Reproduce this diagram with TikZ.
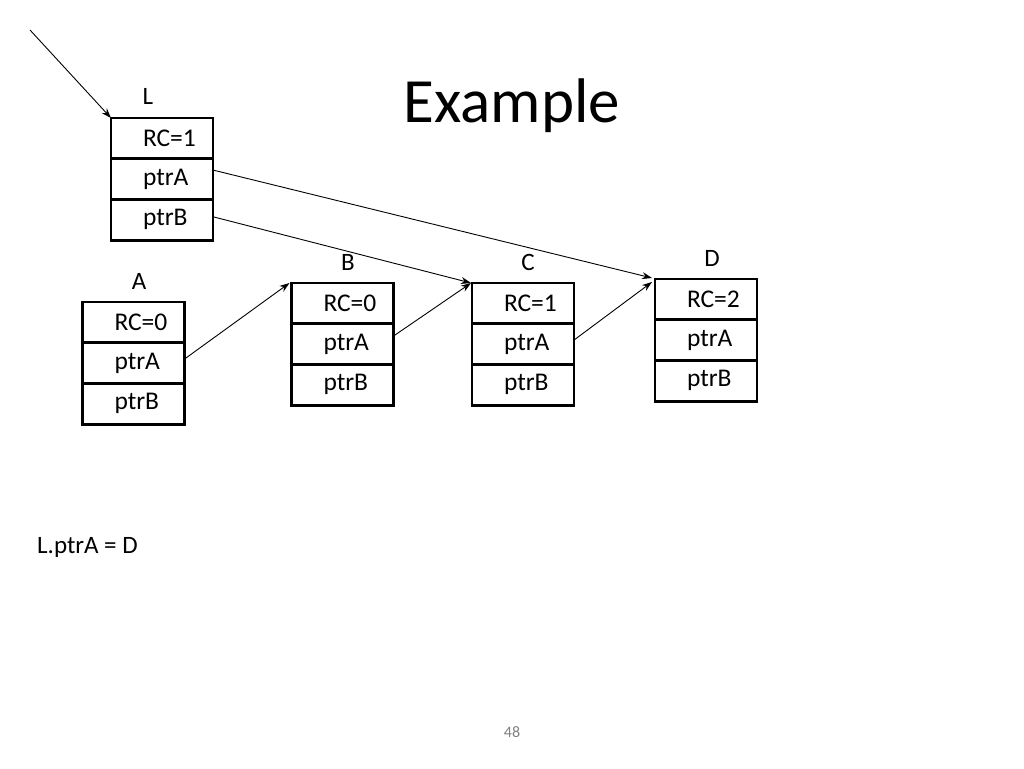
\documentclass[tikz,border=0pt]{standalone}
\usepackage{fontspec}
\setmainfont{Carlito}
\usetikzlibrary{arrows.meta}
\tikzset{
  cell/.style={draw, line width=2.8pt, outer sep=0pt, minimum width=102pt, minimum height=40.7pt,
    text width=70pt, inner xsep=16pt, align=left, font=\fontsize{25.5}{29}\selectfont,
    execute at begin node={\hspace*{16pt}}},
  lab/.style={font=\fontsize{25}{29}\selectfont, inner sep=0pt},
  ptr/.style={line width=0.9pt, -{Stealth[length=10pt,width=7pt]}},
}
\newcommand\objbox[4]{%
  \node[cell, anchor=north] (#1rc) at (#2,#3) {RC=#4};
  \node[cell, anchor=north] (#1a) at (#1rc.south) {ptrA};
  \node[cell, anchor=north] (#1b) at (#1a.south) {ptrB};
}
\begin{document}
\begin{tikzpicture}[x=1pt,y=-1pt]
\useasboundingbox (0,0) rectangle (1024,768);
\node[font=\fontsize{63}{72}\selectfont, inner sep=0pt] (title) at (512,106) {Example};

\objbox{L}{162}{118}{1}
\objbox{A}{133.5}{302}{0}
\objbox{B}{342.5}{283}{0}
\objbox{C}{523}{283}{1}
\objbox{D}{706}{279}{2}

\node[lab] (Llab) at (148,96) {L};
\node[lab] (Alab) at (139,281) {A};
\node[lab] (Blab) at (348,262) {B};
\node[lab] (Clab) at (528,262) {C};
\node[lab] (Dlab) at (712,258) {D};

\coordinate (start) at (30,30);
\draw[ptr] (start) -- (Lrc.north west);
\draw[ptr] ([yshift=9pt]La.east) -- ([xshift=-3pt,yshift=1pt]Drc.north west);
\draw[ptr] ([yshift=3pt]Lb.east) -- ([xshift=-1pt]Crc.north west);
\draw[ptr] ([yshift=4pt]Aa.east) -- ([xshift=-2pt]Brc.north west);
\draw[ptr] ([yshift=8pt]Ba.east) -- ([xshift=-1pt]Crc.north west);
\draw[ptr] ([yshift=4pt]Ca.east) -- ([xshift=-3pt,yshift=-3pt]Drc.north west);

\node[lab, anchor=west] (code) at (37,547) {L.ptrA = D};
\node[font=\fontsize{16}{18}\selectfont, text=black!50, inner sep=0pt] (page) at (512,732) {48};
\end{tikzpicture}
\end{document}
